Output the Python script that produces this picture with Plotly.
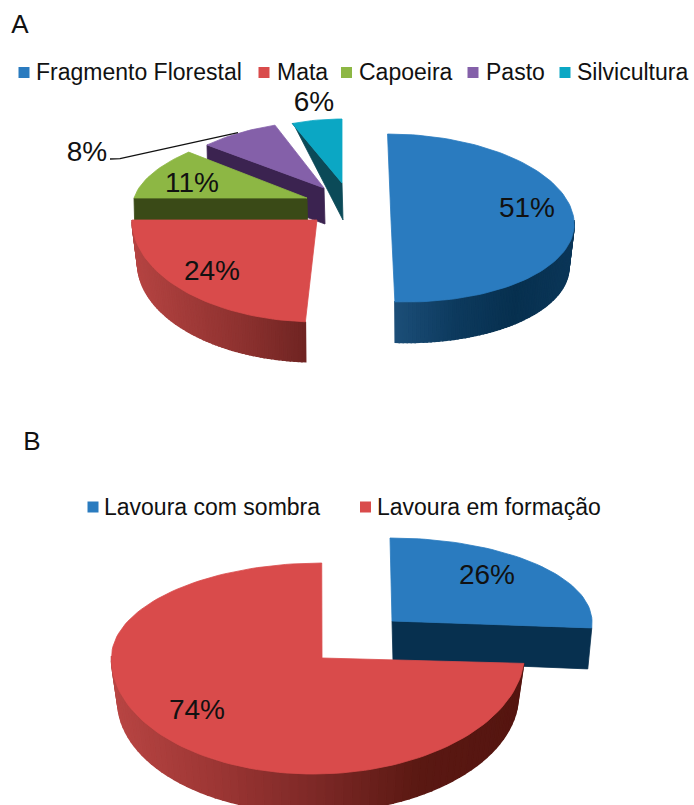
import math
import plotly.graph_objects as go

# ---- data ----
categories_a = ["Fragmento Florestal", "Mata", "Capoeira", "Pasto", "Silvicultura"]
values_a = [51, 24, 11, 8, 6]
categories_b = ["Lavoura com sombra", "Lavoura em formação"]
values_b = [26, 74]

# ---- style ----
FONT = "Liberation Sans"
INK = "#111111"
BLUE, RED, GREEN, PURPLE, TEAL = "#2a7bbf", "#d94b4b", "#8db744", "#8460a9", "#0ba7c4"
BLUE_WALL = ["#1c4e78", "#0d3a5e", "#07304f", "#0b3658"]
RED_WALL = ["#b54442", "#a03a38", "#8a302e", "#6f2422"]
RED_WALL_B = ["#b84543", "#9c3634", "#7c2826", "#5a1812", "#551510"]

# geometry of each exploded slice on the page
GEOM_A = [
    dict(cx=397, cy=220, ax=391, ay=220, rx=177, up=86, dn=82, k=0.11, top=BLUE, depth=43, s=0.97, wall=BLUE_WALL),
    dict(cx=317, cy=220, ax=317, ay=220, rx=185, up=90, dn=102, k=0.0, top=RED, depth=43, s=0.97, wall=RED_WALL),
    dict(cx=307, cy=198, ax=307, ay=198, rx=173, up=72, dn=72, k=-0.326, top=GREEN, depth=40, s=1, face="#3a4a17", face_at="start"),
    dict(cx=324, cy=188, ax=324, ay=188, rx=161, up=67.6, dn=67, k=-0.163, top=PURPLE, depth=36, s=1, face="#3b2350", face_at="start"),
    dict(cx=342, cy=183, ax=342, ay=183, rx=135, up=64, dn=64, k=0.0, top=TEAL, depth=37, s=1, face="#0b4a58", face_at="start", rim_depth=0),
]
GEOM_B = [
    dict(cx=392, cy=621, ax=392, ay=621, rx=200, up=83, dn=110, k=0.024, top=BLUE, depth=40, s=1, face="#07304f", face_at="end", rim_dx=-4, rim_depth=41),
    dict(cx=318, cy=656, ax=322, ay=658, rx=206.5, up=93, dn=118, k=-0.04, top=RED, depth=42, s=0.97, wall=RED_WALL_B),
]
DRAW_ORDER_A = [4, 3, 2, 1, 0]
DRAW_ORDER_B = [0, 1]

LABELS_A = [(527, 210), (212, 273), (192, 185), (87, 154), (314, 104)]
LABELS_B = [(487, 577), (197, 712)]
LEGEND_A = [(24, 36), (264, 277), (346.5, 359), (473, 486), (565, 577)]
LEGEND_B = [(93, 104), (365.5, 377)]
LEGEND_A_Y, LEGEND_B_Y = 72.5, 507
LEGEND_TEXT_SHIFT = 2
PANEL_LETTERS = [("A", 20, 26), ("B", 32, 443)]
LEADER_X, LEADER_Y = [110, 120, 238], [159, 158.7, 132.7]


def hex_rgb(h):
    return tuple(int(h[i:i + 2], 16) for i in (1, 3, 5))


def ramp(stops, t):
    t = max(0.0, min(1.0, t)) * (len(stops) - 1)
    i = min(int(t), len(stops) - 2)
    a, b = hex_rgb(stops[i]), hex_rgb(stops[i + 1])
    f = t - i
    return "rgb(%d,%d,%d)" % tuple(round(a[j] + (b[j] - a[j]) * f) for j in range(3))


def point(g, deg, s=1.0, dy=0.0):
    t = math.radians(deg)
    sn, cs = math.sin(t), math.cos(t)
    ry = g["up"] if cs > 0 else g["dn"]
    y0 = -ry * cs
    return g["cx"] + s * g["rx"] * sn + g["k"] * y0, g["cy"] + s * y0 + dy


def poly(fig, pts, color, width=0.8):
    xs = [p[0] for p in pts] + [pts[0][0]]
    ys = [p[1] for p in pts] + [pts[0][1]]
    fig.add_trace(go.Scatter(x=xs, y=ys, mode="lines", fill="toself", fillcolor=color,
                             line=dict(color=color, width=width), hoverinfo="skip", showlegend=False))


def draw_slice(fig, g, a0, a1):
    d = g["depth"]
    s = g["s"]
    rim_d = g.get("rim_depth", d)
    rim_dx = g.get("rim_dx", 1)
    apex = (g["ax"], g["ay"])
    # radial side face
    if "face" in g:
        ang = a0 if g["face_at"] == "start" else a1
        rx0, ry0 = point(g, ang)
        poly(fig, [(rx0, ry0), apex, (apex[0] + 1, apex[1] + d), (rx0 + rim_dx, ry0 + rim_d)], g["face"])
    # curved outer wall with a shaded ramp
    if "wall" in g:
        w0, w1 = max(a0, 90), min(a1, 270)
        n = 70
        xa, xb = point(g, w1)[0], point(g, w0)[0]
        for i in range(n):
            p = w0 + (w1 - w0) * i / n
            q = w0 + (w1 - w0) * (i + 1) / n
            pa, qa = point(g, p), point(g, q)
            pb, qb = point(g, p, s, d), point(g, q, s, d)
            t = ((pa[0] + qa[0]) / 2 - xa) / (xb - xa)
            poly(fig, [pa, qa, qb, pb], ramp(g["wall"], t), width=1.5)
    # top face
    m = max(8, int((a1 - a0) / 2))
    arc = [point(g, a0 + (a1 - a0) * i / m) for i in range(m + 1)]
    poly(fig, arc + [apex], g["top"])


def draw_pie(fig, values, geoms, order):
    total = sum(values)
    edges = [0.0]
    for v in values:
        edges.append(edges[-1] + 360.0 * v / total)
    for i in order:
        draw_slice(fig, geoms[i], edges[i], edges[i + 1])


def text_trace(fig, xs, ys, texts, size, position):
    fig.add_trace(go.Scatter(x=xs, y=ys, text=texts, mode="text", textposition=position,
                             textfont=dict(family=FONT, size=size, color=INK),
                             hoverinfo="skip", showlegend=False))


def legend_row(fig, names, slots, y, colors):
    fig.add_trace(go.Scatter(x=[s[0] for s in slots], y=[y] * len(slots), mode="markers",
                             marker=dict(symbol="square", size=11, color=colors, line=dict(width=0)),
                             hoverinfo="skip", showlegend=False))
    text_trace(fig, [s[1] for s in slots], [y + LEGEND_TEXT_SHIFT] * len(slots), names, 23, "middle right")


fig = go.Figure()
draw_pie(fig, values_a, GEOM_A, DRAW_ORDER_A)
draw_pie(fig, values_b, GEOM_B, DRAW_ORDER_B)

fig.add_trace(go.Scatter(x=LEADER_X, y=LEADER_Y, mode="lines", line=dict(color="#111111", width=1.3),
                         hoverinfo="skip", showlegend=False))

text_trace(fig, [p[0] for p in LABELS_A], [p[1] for p in LABELS_A], [f"{v}%" for v in values_a], 28, "middle center")
text_trace(fig, [p[0] for p in LABELS_B], [p[1] for p in LABELS_B], [f"{v}%" for v in values_b], 28, "middle center")
legend_row(fig, categories_a, LEGEND_A, LEGEND_A_Y, [BLUE, RED, GREEN, PURPLE, TEAL])
legend_row(fig, categories_b, LEGEND_B, LEGEND_B_Y, [BLUE, RED])
text_trace(fig, [p[1] for p in PANEL_LETTERS], [p[2] for p in PANEL_LETTERS], [p[0] for p in PANEL_LETTERS], 26, "middle center")

fig.update_layout(
    width=694, height=805, margin=dict(l=0, r=0, t=0, b=0),
    paper_bgcolor="white", plot_bgcolor="white", showlegend=False,
    xaxis=dict(range=[0, 694], visible=False, fixedrange=True),
    yaxis=dict(range=[805, 0], visible=False, fixedrange=True),
)
fig.write_html("out.html", post_script="document.body.style.margin='0';document.body.style.overflow='hidden';",
               config={"displayModeBar": False})
